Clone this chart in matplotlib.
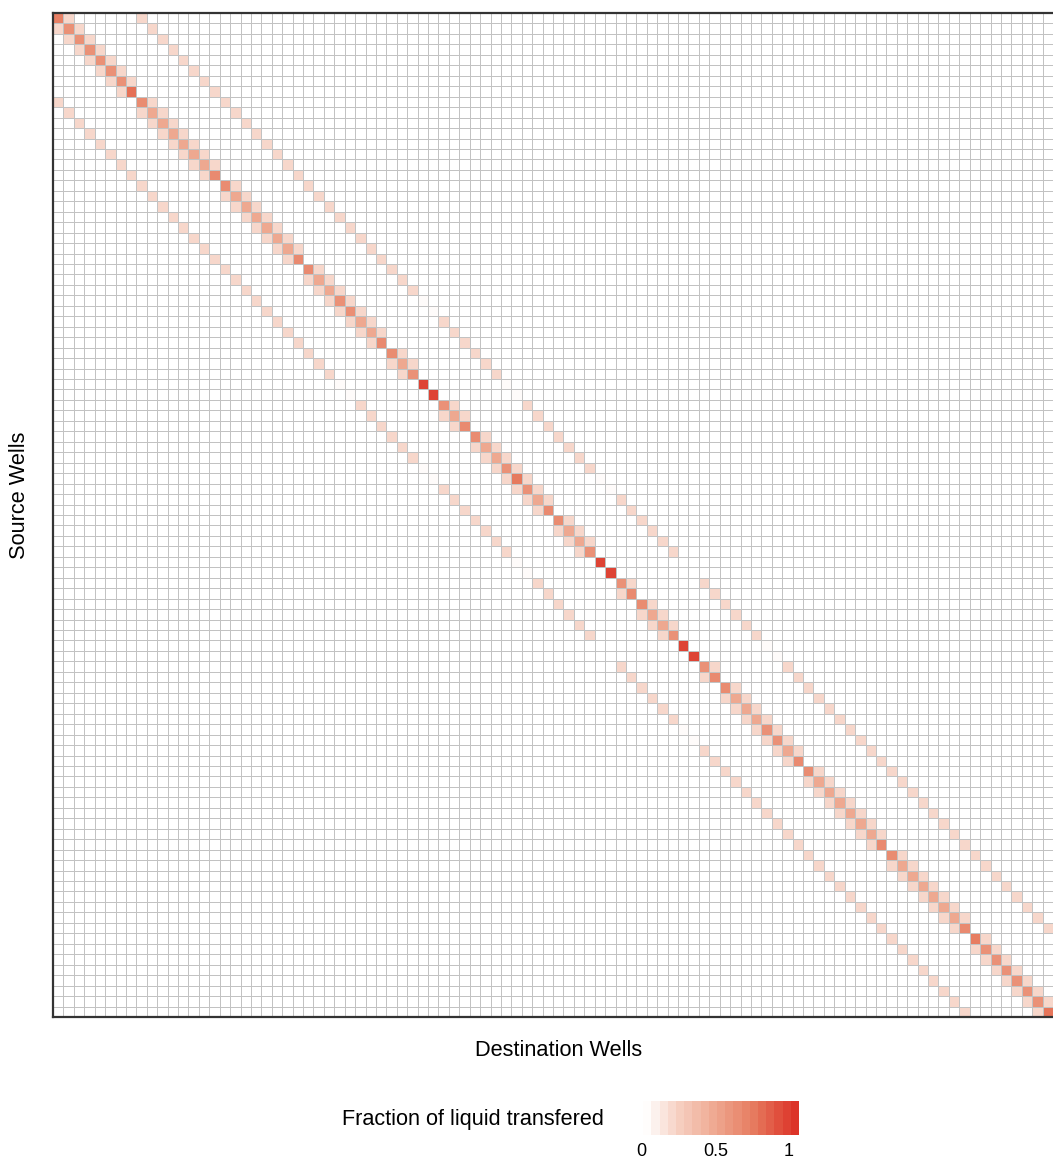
import numpy as np
import matplotlib
matplotlib.use("Agg")
import matplotlib.pyplot as plt
from matplotlib.colors import LinearSegmentedColormap, Normalize

plt.rcParams["font.family"] = ["Liberation Sans", "DejaVu Sans"]

# 96 well plate, wells listed column by column (A1..H1, A2..H2, ...)
plate_rows = list("ABCDEFGH")
plate_cols = list(range(1, 13))

# fraction a source well keeps (diagonal), one list per plate column, rows A..H
kept = [
    [0.74, 0.64, 0.64, 0.64, 0.64, 0.64, 0.64, 0.82],  # 1
    [0.67, 0.50, 0.50, 0.50, 0.50, 0.50, 0.50, 0.68],  # 2
    [0.67, 0.50, 0.50, 0.50, 0.50, 0.50, 0.50, 0.68],  # 3
    [0.68, 0.50, 0.50, 0.64, 0.65, 0.50, 0.50, 0.68],  # 4
    [0.67, 0.50, 0.64, 1.00, 1.00, 0.64, 0.50, 0.68],  # 5
    [0.67, 0.50, 0.50, 0.64, 0.78, 0.64, 0.50, 0.68],  # 6
    [0.67, 0.50, 0.50, 0.64, 1.00, 1.00, 0.64, 0.68],  # 7
    [0.67, 0.50, 0.50, 0.64, 1.00, 1.00, 0.64, 0.68],  # 8
    [0.67, 0.50, 0.50, 0.50, 0.64, 0.64, 0.50, 0.68],  # 9
    [0.67, 0.50, 0.50, 0.50, 0.50, 0.50, 0.50, 0.68],  # 10
    [0.67, 0.50, 0.50, 0.50, 0.50, 0.50, 0.50, 0.68],  # 11
    [0.76, 0.64, 0.64, 0.64, 0.64, 0.64, 0.64, 0.80],  # 12
]

# share that goes to each open neighbouring well (up/down/left/right on the plate)
neighbour_frac = 0.2

# wells that neither give nor take (the dark red diagonal cells)
sealed = ["D5", "E5", "E7", "F7", "E8", "F8"]

# barely visible transfers next to the sealed wells
trace_frac = 0.02
trace_links = [
    ("D4", "D5"), ("D5", "D4"), ("D5", "D6"), ("D6", "D5"),
    ("E4", "E5"), ("E5", "E4"), ("E5", "E6"), ("E6", "E5"),
    ("E6", "E7"), ("E7", "E6"), ("F6", "F7"), ("F7", "F6"),
    ("E8", "E9"), ("E9", "E8"), ("F8", "F9"), ("F9", "F8"),
]

# colour scale
scale_lo, scale_hi = -0.046, 1.068
scale_pos = [0.0, 0.04, 0.25, 0.5, 0.75, 1.0]
scale_cols = ["#FFFFFF", "#FFFFFF", "#F6D0C2", "#EEA68E", "#E6785C", "#DC3328"]
legend_breaks = [0, 0.5, 1]
legend_labels = ["0", "0.5", "1"]

# build the source x destination matrix
wells = [f"{r}{c}" for c in plate_cols for r in plate_rows]
idx = {w: i for i, w in enumerate(wells)}
n = len(wells)
frac = np.zeros((n, n))
for ci, c in enumerate(plate_cols):
    for ri, r in enumerate(plate_rows):
        src = f"{r}{c}"
        frac[idx[src], idx[src]] = kept[ci][ri]
        if src in sealed:
            continue
        for dr, dc in [(-1, 0), (1, 0), (0, -1), (0, 1)]:
            rr, cc = ri + dr, ci + dc
            if 0 <= rr < len(plate_rows) and 0 <= cc < len(plate_cols):
                dst = f"{plate_rows[rr]}{plate_cols[cc]}"
                if dst not in sealed:
                    frac[idx[src], idx[dst]] = neighbour_frac
for s, d in trace_links:
    frac[idx[s], idx[d]] = trace_frac

cmap = LinearSegmentedColormap.from_list("fill", list(zip(scale_pos, scale_cols)))
norm = Normalize(vmin=scale_lo, vmax=scale_hi)

W, H = 1053, 1163
fig = plt.figure(figsize=(W / 100, H / 100), dpi=100)
ax = fig.add_axes([53 / W, (H - 1017) / H, 1 - 53 / W, 1004 / H])

edges = np.arange(n + 1)
ax.pcolormesh(edges, edges, frac, cmap=cmap, norm=norm,
              edgecolors="#C2C2C2", linewidth=0.55)
ax.set_xlim(0, n)
ax.set_ylim(n, 0)
ax.set_xticks([])
ax.set_yticks([])
for side in ["left", "bottom", "top"]:
    ax.spines[side].set_color("#333333")
    ax.spines[side].set_linewidth(1.6)
ax.spines["right"].set_visible(False)

fig.text(559 / W, 1 - 1050 / H, "Destination Wells", ha="center", va="center",
         fontsize=15.7, color="black")
fig.text(20 / W, 1 - 495 / H, "Source Wells", ha="center", va="center",
         rotation=90, fontsize=15.7, color="black")

# legend: stepped colour bar (20 bins)
cax = fig.add_axes([635 / W, (H - 1135) / H, 164 / W, 34 / H])
nbin = 20
bin_edges = np.linspace(scale_lo, scale_hi, nbin + 1)
bin_vals = np.linspace(scale_lo, scale_hi, nbin)
cax.pcolormesh(bin_edges, [0, 1], bin_vals[None, :], cmap=cmap, norm=norm)
cax.set_xlim(scale_lo, scale_hi)
cax.set_ylim(0, 1)
cax.set_xticks([])
cax.set_yticks([])
for s in cax.spines.values():
    s.set_visible(False)
for v, lab in zip(legend_breaks, legend_labels):
    cax.text(v, -0.5, lab, ha="center", va="center", fontsize=13, color="black",
             transform=cax.get_xaxis_transform())

fig.text(342 / W, 1 - 1120 / H, "Fraction of liquid transfered", ha="left",
         va="center", fontsize=15.6, color="black")

fig.savefig("out.png", dpi=100)
